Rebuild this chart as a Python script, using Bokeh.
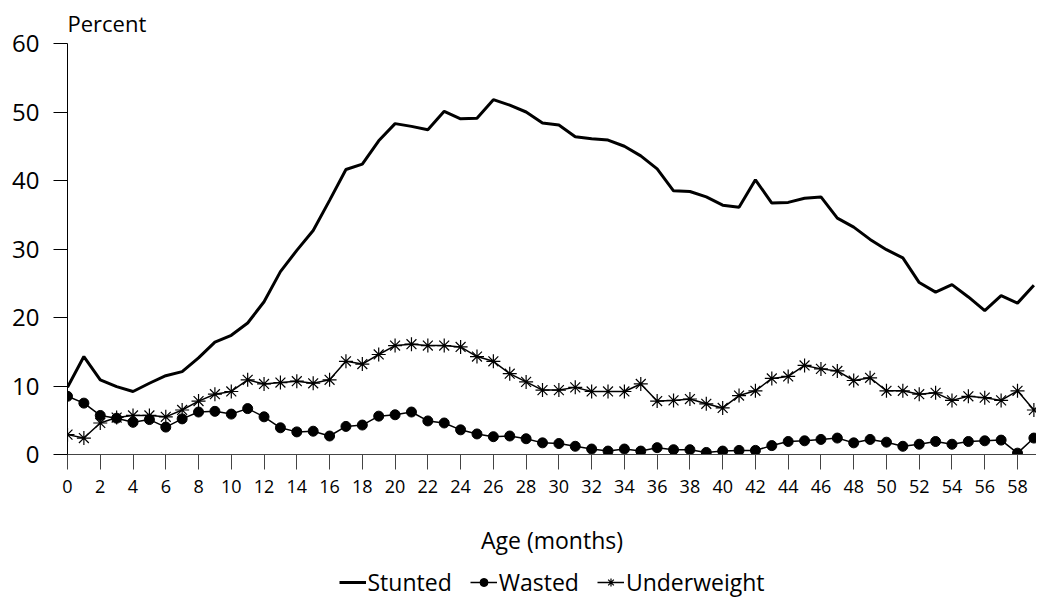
from bokeh.plotting import figure
from bokeh.models import Range1d, FixedTicker, Legend, LegendItem, Title
from bokeh.layouts import column
from bokeh.embed import file_html
from bokeh.resources import INLINE

months = list(range(0, 60))
stunted = [9.8, 14.3, 10.9, 9.9, 9.2, 10.4, 11.5, 12.1, 14.1, 16.4,
           17.4, 19.2, 22.3, 26.7, 29.8, 32.7, 37.1, 41.6, 42.4, 45.8,
           48.3, 47.9, 47.4, 50.1, 49.0, 49.1, 51.8, 51.0, 50.0, 48.4,
           48.1, 46.4, 46.1, 45.9, 45.0, 43.6, 41.7, 38.5, 38.4, 37.6,
           36.4, 36.1, 40.1, 36.7, 36.8, 37.4, 37.6, 34.5, 33.2, 31.4,
           29.9, 28.7, 25.1, 23.7, 24.8, 23.0, 21.0, 23.2, 22.1, 24.7]
wasted = [8.5, 7.5, 5.7, 5.3, 4.7, 5.1, 4.0, 5.2, 6.2, 6.3,
          5.9, 6.7, 5.5, 3.9, 3.3, 3.4, 2.7, 4.1, 4.3, 5.6,
          5.8, 6.2, 4.9, 4.6, 3.6, 3.0, 2.6, 2.7, 2.3, 1.7,
          1.6, 1.2, 0.8, 0.5, 0.8, 0.5, 1.0, 0.7, 0.7, 0.3,
          0.5, 0.6, 0.6, 1.3, 1.9, 2.0, 2.2, 2.4, 1.7, 2.2,
          1.8, 1.2, 1.5, 1.9, 1.5, 1.9, 2.0, 2.1, 0.2, 2.4]
underweight = [2.9, 2.4, 4.6, 5.4, 5.7, 5.7, 5.5, 6.5, 7.8, 8.8,
               9.2, 10.9, 10.3, 10.5, 10.7, 10.4, 10.9, 13.6, 13.2, 14.6,
               15.9, 16.1, 15.9, 15.9, 15.7, 14.3, 13.6, 11.8, 10.6, 9.4,
               9.4, 9.8, 9.2, 9.2, 9.2, 10.3, 7.8, 7.9, 8.1, 7.4,
               6.8, 8.6, 9.3, 11.1, 11.4, 13.0, 12.5, 12.2, 10.8, 11.2,
               9.3, 9.3, 8.8, 9.0, 7.9, 8.5, 8.3, 7.9, 9.3, 6.5]
x_ticks = list(range(0, 59, 2))
y_ticks = [0, 10, 20, 30, 40, 50, 60]
series_names = ["Stunted", "Wasted", "Underweight"]

FONT = "Open Sans"


def draw_series(fig):
    rs = fig.line(months, stunted, line_color="black", line_width=3)
    rw = fig.line(months, wasted, line_color="black", line_width=1.5)
    rwm = fig.scatter(months, wasted, marker="circle", size=10, fill_color="black", line_color="black")
    ru = fig.line(months, underweight, line_color="black", line_width=1.5)
    rum = fig.scatter(months, underweight, marker="asterisk", size=14, line_color="black", line_width=1.2)
    return [[rs], [rw, rwm], [ru, rum]]


p = figure(frame_width=969, frame_height=411, x_range=Range1d(0, 59.16), y_range=Range1d(0, 60),
           output_backend="svg", toolbar_location=None,
           min_border_left=67, min_border_right=0, min_border_top=43, min_border_bottom=110)
p.outline_line_color = None
p.grid.visible = False
p.background_fill_color = "white"
p.border_fill_color = "white"

p.title = Title(text="Percent", align="left", text_font=FONT, text_font_size="22px",
                text_font_style="normal", text_color="black", standoff=11)

draw_series(p)

xa = p.xaxis[0]
xa.ticker = FixedTicker(ticks=x_ticks)
xa.minor_tick_line_color = None
xa.major_tick_in = 0
xa.major_tick_out = 15
xa.axis_line_color = "#444444"
xa.major_tick_line_color = "#444444"
xa.major_label_text_font = FONT
xa.major_label_text_font_size = "18px"
xa.major_label_text_color = "black"
xa.major_label_standoff = 10
xa.axis_label = "Age (months)"
xa.axis_label_text_font = FONT
xa.axis_label_text_font_size = "23px"
xa.axis_label_text_font_style = "normal"
xa.axis_label_text_color = "black"
xa.axis_label_standoff = 28

ya = p.yaxis[0]
ya.ticker = FixedTicker(ticks=y_ticks)
ya.minor_tick_line_color = None
ya.major_tick_in = 0
ya.major_tick_out = 14
ya.axis_line_color = "black"
ya.major_label_text_font = FONT
ya.major_label_text_font_size = "24px"
ya.major_label_text_color = "black"
ya.major_label_standoff = 14

# legend strip below the chart (series drawn outside its visible range, used only as legend glyphs)
leg = figure(width=1036, height=36, x_range=Range1d(-3, -2), y_range=Range1d(0, 1),
             output_backend="svg", toolbar_location=None,
             min_border_left=67, min_border_right=0, min_border_top=0, min_border_bottom=0)
leg.axis.visible = False
leg.grid.visible = False
leg.outline_line_color = None
leg_renderers = draw_series(leg)

legend = Legend(items=[LegendItem(label=name, renderers=rs)
                       for name, rs in zip(series_names, leg_renderers)],
                orientation="horizontal", location="center",
                border_line_color=None, background_fill_alpha=0,
                label_text_font=FONT, label_text_font_size="23px", label_text_color="black",
                glyph_width=27, label_standoff=2, spacing=18, padding=0, margin=0)
leg.add_layout(legend, "center")

layout = column(p, leg, spacing=0)
open("out.html", "w").write(file_html(layout, INLINE))
